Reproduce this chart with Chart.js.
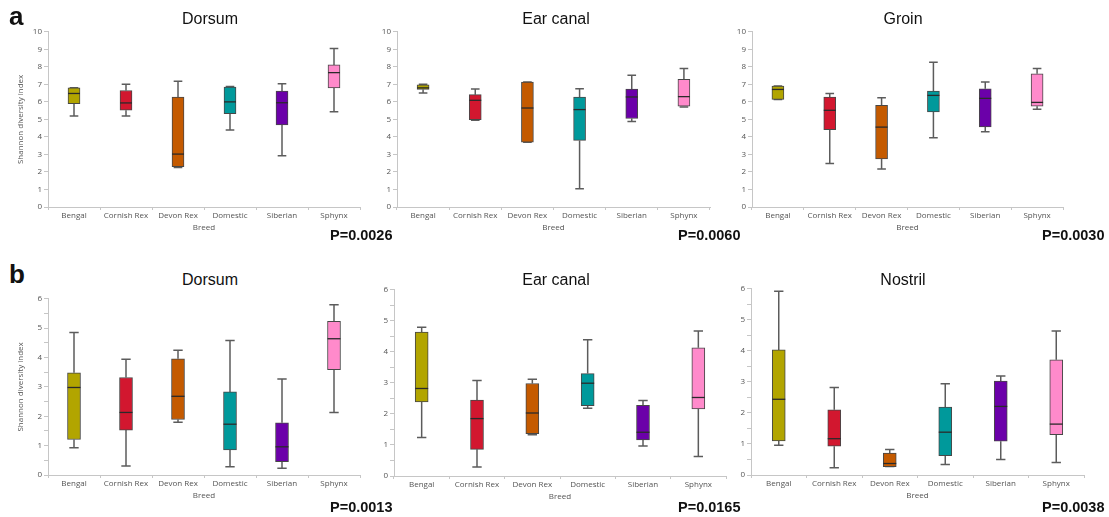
<!DOCTYPE html>
<html>
<head>
<meta charset="utf-8">
<script src="https://cdn.jsdelivr.net/npm/chart.js@4.4.1/dist/chart.umd.min.js"></script>
<style>
  html, body { margin: 0; padding: 0; background: #fff; }
  #fig { position: relative; width: 1109px; height: 517px; overflow: hidden; font-family: "Liberation Sans", Arial, sans-serif; }
  #fig canvas { position: absolute; }
  .lbl { position: absolute; white-space: nowrap; color: #111; }
  .letter { font-weight: bold; font-size: 26px; line-height: 26px; }
  .title { font-size: 16px; line-height: 16px; transform: translateX(-50%); }
  .pval { font-weight: bold; font-size: 14.5px; line-height: 14.5px; }
</style>
</head>
<body>
<div id="fig"></div>
<script>
const breeds = ["Bengal", "Cornish Rex", "Devon Rex", "Domestic", "Siberian", "Sphynx"];
const breedColors = ["#b2a500", "#d2172f", "#c45a00", "#00999b", "#6b00a9", "#ff8acb"];

// Shannon index per breed: [min, q1, median, q3, max]
const dorsumA = [[5.2, 5.9, 6.48, 6.8, 6.8], [5.2, 5.52, 5.94, 6.65, 7.0], [2.25, 2.3, 3.02, 6.28, 7.18],
                 [4.39, 5.33, 6.0, 6.85, 6.88], [2.93, 4.69, 5.95, 6.62, 7.03], [5.44, 6.8, 7.67, 8.11, 9.05]];
const earCanalA = [[6.5, 6.71, 6.8, 6.98, 7.0], [4.95, 4.99, 6.09, 6.41, 6.73], [3.7, 3.7, 5.65, 7.13, 7.13],
                   [1.04, 3.8, 5.56, 6.28, 6.75], [4.88, 5.05, 6.28, 6.73, 7.52], [5.71, 5.75, 6.3, 7.28, 7.9]];
const groinA = [[6.14, 6.14, 6.71, 6.9, 6.9], [2.48, 4.42, 5.52, 6.28, 6.48], [2.17, 2.74, 4.56, 5.8, 6.24],
                [3.95, 5.43, 6.37, 6.62, 8.26], [4.29, 4.57, 6.2, 6.75, 7.13], [5.58, 5.75, 5.97, 7.6, 7.9]];
const dorsumB = [[0.93, 1.21, 2.98, 3.48, 4.85], [0.31, 1.53, 2.13, 3.32, 3.94], [1.8, 1.89, 2.68, 3.96, 4.25],
                 [0.28, 0.85, 1.73, 2.83, 4.58], [0.23, 0.45, 0.96, 1.78, 3.27], [2.13, 3.59, 4.64, 5.23, 5.8]];
const earCanalB = [[1.24, 2.39, 2.82, 4.64, 4.79], [0.29, 0.86, 1.85, 2.45, 3.08], [1.33, 1.36, 2.03, 2.98, 3.12],
                   [2.18, 2.27, 2.99, 3.3, 4.39], [0.97, 1.16, 1.41, 2.28, 2.43], [0.63, 2.16, 2.53, 4.13, 4.67]];
const nostrilB = [[0.96, 1.1, 2.44, 4.03, 5.92], [0.23, 0.93, 1.17, 2.1, 2.82], [0.27, 0.27, 0.37, 0.71, 0.82],
                  [0.34, 0.62, 1.38, 2.19, 2.94], [0.5, 1.09, 2.21, 3.03, 3.19], [0.4, 1.3, 1.64, 3.71, 4.64]];

const yMaxA = 10, yStepA = 1;
const yMaxB = 6, yStepB = 0.5;
const pValues = ["P=0.0026", "P=0.0060", "P=0.0030", "P=0.0013", "P=0.0165", "P=0.0038"];
const titles = ["Dorsum", "Ear canal", "Groin", "Dorsum", "Ear canal", "Nostril"];

// plot area of each panel on the page (px)
const panels = [
  { stats: dorsumA,   yMax: yMaxA, step: yStepA, L: 48,  R: 360,  T: 31,  B: 207, yTitle: true,  box: 12 },
  { stats: earCanalA, yMax: yMaxA, step: yStepA, L: 397, R: 710,  T: 31,  B: 207, yTitle: false, box: 12 },
  { stats: groinA,    yMax: yMaxA, step: yStepA, L: 752, R: 1063, T: 31,  B: 207, yTitle: false, box: 12 },
  { stats: dorsumB,   yMax: yMaxB, step: yStepB, L: 48,  R: 360,  T: 298, B: 475, yTitle: true,  box: 13 },
  { stats: earCanalB, yMax: yMaxB, step: yStepB, L: 394, R: 726,  T: 289, B: 476, yTitle: false, box: 13 },
  { stats: nostrilB,  yMax: yMaxB, step: yStepB, L: 751, R: 1084, T: 288, B: 475, yTitle: false, box: 13 }
];
const titleX = [210, 556, 903, 210, 556, 903];
const titleY = [11, 11, 11, 272, 272, 272];
const pX = [330, 678, 1042, 330, 678, 1042];
const pY = [228, 228, 228, 500, 500, 500];

const fig = document.getElementById("fig");
const axisColor = "#c6c6c6";
const textColor = "#555";
const smallFont = { family: "'Open Sans', 'Liberation Sans', sans-serif", size: 8 };
const padTop = 6, padRight = 4, xH = 29;

function addText(cls, text, x, y) {
  const d = document.createElement("div");
  d.className = "lbl " + cls;
  d.textContent = text;
  d.style.left = x + "px";
  d.style.top = y + "px";
  fig.appendChild(d);
}

// whiskers under the boxes, medians on top
function boxPlotPlugin(stats) {
  return {
    id: "boxPlot",
    beforeDatasetsDraw(chart) {
      const y = chart.scales.y;
      const meta = chart.getDatasetMeta(0);
      const ctx = chart.ctx;
      ctx.save();
      ctx.strokeStyle = "#5c5c5c";
      ctx.lineWidth = 1.5;
      stats.forEach((s, i) => {
        const bar = meta.data[i];
        const cx = bar.x, cap = bar.width * 0.36;
        const lo = y.getPixelForValue(s[0]), q1 = y.getPixelForValue(s[1]);
        const q3 = y.getPixelForValue(s[3]), hi = y.getPixelForValue(s[4]);
        ctx.beginPath();
        ctx.moveTo(cx, q1); ctx.lineTo(cx, lo);
        ctx.moveTo(cx - cap, lo); ctx.lineTo(cx + cap, lo);
        ctx.moveTo(cx, q3); ctx.lineTo(cx, hi);
        ctx.moveTo(cx - cap, hi); ctx.lineTo(cx + cap, hi);
        ctx.stroke();
      });
      ctx.restore();
    },
    afterDatasetsDraw(chart) {
      const y = chart.scales.y;
      const meta = chart.getDatasetMeta(0);
      const ctx = chart.ctx;
      ctx.save();
      ctx.strokeStyle = "#2a2a2a";
      ctx.lineWidth = 1.3;
      stats.forEach((s, i) => {
        const bar = meta.data[i];
        const m = y.getPixelForValue(s[2]);
        ctx.beginPath();
        ctx.moveTo(bar.x - bar.width / 2, m);
        ctx.lineTo(bar.x + bar.width / 2, m);
        ctx.stroke();
      });
      ctx.restore();
    }
  };
}

panels.forEach((p, k) => {
  const yW = p.yTitle ? 48 : 28;
  const left = p.L - yW, top = p.T - padTop;
  const w = p.R - left + padRight, h = p.B - top + xH;
  const cv = document.createElement("canvas");
  cv.width = w; cv.height = h;
  cv.style.left = left + "px"; cv.style.top = top + "px";
  cv.style.width = w + "px"; cv.style.height = h + "px";
  fig.appendChild(cv);

  new Chart(cv.getContext("2d"), {
    type: "bar",
    data: {
      labels: breeds,
      datasets: [{
        data: p.stats.map(s => [s[1], s[3]]),
        backgroundColor: breedColors,
        borderColor: "#474747",
        borderWidth: 1,
        borderSkipped: false,
        barThickness: p.box
      }]
    },
    options: {
      responsive: false,
      animation: false,
      layout: { padding: { top: padTop, right: padRight, left: 0, bottom: 0 } },
      plugins: { legend: { display: false }, tooltip: { enabled: false } },
      scales: {
        x: {
          grid: { offset: true, drawOnChartArea: false, tickLength: 3, color: axisColor },
          border: { color: axisColor },
          ticks: { font: smallFont, color: textColor, maxRotation: 0, autoSkip: false, padding: 1 },
          title: { display: true, text: "Breed", font: smallFont, color: textColor, padding: { top: 0, bottom: 3.5 } },
          afterFit: s => { s.height = xH; }
        },
        y: {
          min: 0,
          max: p.yMax,
          grid: { drawOnChartArea: false, tickLength: 4, color: axisColor },
          border: { color: axisColor },
          ticks: {
            stepSize: p.step,
            font: smallFont,
            color: textColor,
            padding: 2,
            callback: v => Number.isInteger(v) ? v : ""
          },
          title: { display: p.yTitle, text: "Shannon diversity index", font: smallFont, color: textColor, padding: { top: 16, bottom: 0 } },
          afterFit: s => { s.width = yW; }
        }
      }
    },
    plugins: [boxPlotPlugin(p.stats)]
  });

  addText("title", titles[k], titleX[k], titleY[k]);
  addText("pval", pValues[k], pX[k], pY[k]);
});

addText("letter", "a", 9, 3);
addText("letter", "b", 9, 261);
</script>
</body>
</html>
